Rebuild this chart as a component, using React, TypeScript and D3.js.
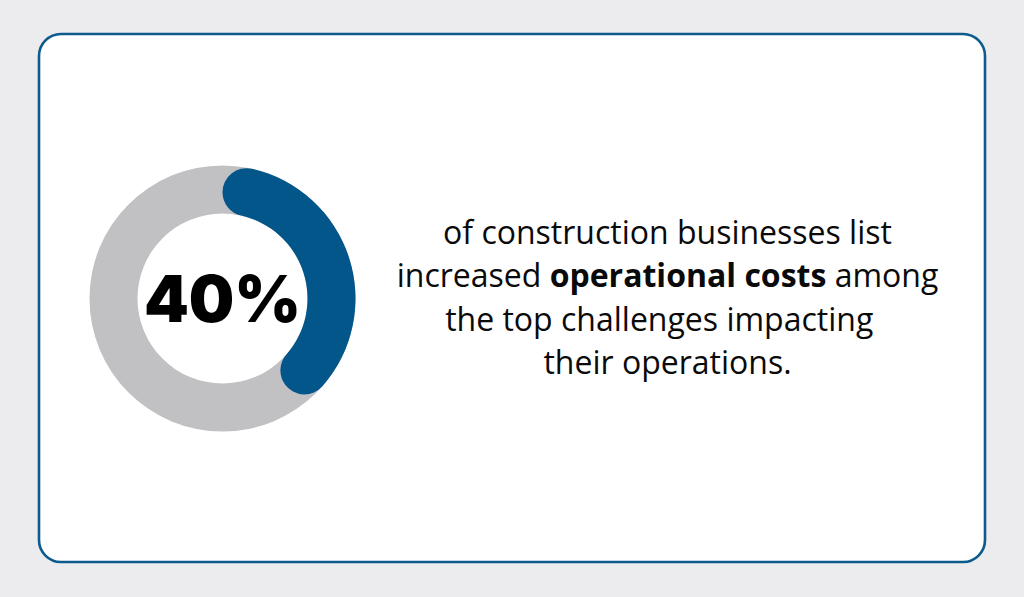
import React from "react";
import * as d3 from "d3";

const percentValue = 40;
const percentLabel = "40%";
const lines: { text: string; bold?: boolean }[][] = [
  [{ text: "of construction businesses list" }],
  [{ text: "increased " }, { text: "operational costs", bold: true }, { text: " among" }],
  [{ text: "the top challenges impacting\u00a0\u00a0" }],
  [{ text: "their operations." }],
];

const W = 1024;
const H = 597;

export default function App() {
  const cx = 222.5;
  const cy = 298.5;
  const outerR = 133;
  const innerR = 85;
  const angle = d3.scaleLinear().domain([0, 100]).range([0, 2 * Math.PI]);
  const ring = d3.arc()({ innerRadius: innerR, outerRadius: outerR, startAngle: 0, endAngle: 2 * Math.PI } as any) as string;
  const val = d3
    .arc()
    .cornerRadius((outerR - innerR) / 2)({
    innerRadius: innerR,
    outerRadius: outerR,
    startAngle: angle(0),
    endAngle: angle(percentValue),
  } as any) as string;

  const textX = 667.5;
  const baseY = 243.5;
  const lh = 43.5;

  return (
    <svg
      width={W}
      height={H}
      style={{ position: "absolute", left: 0, top: 0, display: "block" }}
    >
      <rect x={0} y={0} width={W} height={H} fill="#ececee" />
      <rect x={39} y={34} width={946} height={528} rx={22} ry={22} fill="#ffffff" stroke="#0d5a8c" strokeWidth={2.6} />
      <g transform={`translate(${cx},${cy})`}>
        <path d={ring} fill="#c1c1c4" />
        <path d={val} fill="#02568a" />
        <text
          x={0}
          y={23}
          textAnchor="middle"
          fontFamily="Inter, 'Noto Sans', sans-serif"
          fontWeight={900}
          fontSize={64}
          fill="#000"
        >
          {percentLabel}
        </text>
      </g>
      <g fontFamily="'Open Sans', sans-serif" fontSize={32} fill="#0a0a0a">
        {lines.map((segs, i) => (
          <text key={i} x={textX} y={baseY + i * lh} textAnchor="middle">
            {segs.map((s, j) => (
              <tspan key={j} fontWeight={s.bold ? 700 : 400}>
                {s.text}
              </tspan>
            ))}
          </text>
        ))}
      </g>
    </svg>
  );
}
